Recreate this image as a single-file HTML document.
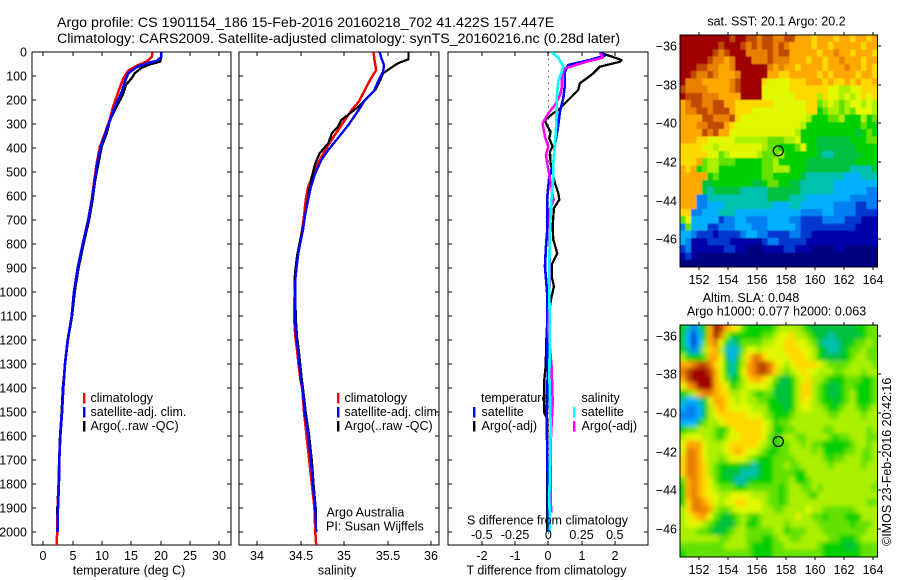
<!DOCTYPE html>
<html lang="en">
<head>
<meta charset="utf-8">
<title>Argo profile</title>
<style>
html,body{margin:0;padding:0;background:#fff;}
svg{display:block;font-family:"Liberation Sans",Arial,sans-serif;font-size:12.5px;fill:#000;}
text{fill:#000;}
</style>
</head>
<body>
<svg id="fig" xmlns="http://www.w3.org/2000/svg" width="900" height="580" viewBox="0 0 900 580">
  <defs>
    <clipPath id="clip-t"><rect x="32" y="52" width="199" height="493"/></clipPath>
    <clipPath id="clip-s"><rect x="239" y="52" width="200" height="493"/></clipPath>
    <clipPath id="clip-d"><rect x="448" y="52" width="200" height="493"/></clipPath>
    <clipPath id="clip-m1"><rect x="680" y="35" width="197.5" height="232"/></clipPath>
    <clipPath id="clip-m2"><rect x="680" y="325" width="197.5" height="232"/></clipPath>
    <filter id="soft1" filterUnits="userSpaceOnUse" x="650" y="0" width="250" height="300"><feGaussianBlur stdDeviation="0.6"/></filter>
    <filter id="soft2" filterUnits="userSpaceOnUse" x="650" y="290" width="250" height="290"><feGaussianBlur stdDeviation="2"/></filter>
  </defs>
  <rect x="0" y="0" width="900" height="580" fill="#fff"/>
  <text x="57" y="27" style="font-size:14.25px">Argo profile: CS 1901154_186 15-Feb-2016 20160218_702 41.422S 157.447E</text>
  <text x="57" y="43" style="font-size:14.2px">Climatology: CARS2009. Satellite-adjusted climatology: synTS_20160216.nc (0.28d later)</text>

  <g id="panel-t"></g>
  <g id="panel-s"></g>
  <g id="panel-d"></g>
  <g id="map-sst"></g>
  <g id="map-sla"></g>

  <text x="129" y="574.5" text-anchor="middle">temperature (deg C)</text>
  <text x="337" y="574.5" text-anchor="middle">salinity</text>
  <text x="546.5" y="574.5" text-anchor="middle">T difference from climatology</text>
  <text x="547.5" y="524.5" text-anchor="middle">S difference from climatology</text>

  <g>
    <rect x="83" y="393" width="2.4" height="10.5" fill="#f00"/>
    <rect x="83" y="407" width="2.4" height="10.5" fill="#00f"/>
    <rect x="83" y="421" width="2.4" height="10.5" fill="#000"/>
    <text x="90.5" y="402">climatology</text>
    <text x="90.5" y="416">satellite-adj. clim.</text>
    <text x="90.5" y="430">Argo(..raw -QC)</text>
  </g>
  <g>
    <rect x="337" y="393" width="2.4" height="10.5" fill="#f00"/>
    <rect x="337" y="407" width="2.4" height="10.5" fill="#00f"/>
    <rect x="337" y="421" width="2.4" height="10.5" fill="#000"/>
    <text x="344.5" y="402">climatology</text>
    <text x="344.5" y="416">satellite-adj. clim.</text>
    <text x="344.5" y="430">Argo(..raw -QC)</text>
  </g>
  <text x="326.5" y="516.5">Argo Australia</text>
  <text x="326" y="530.5">PI: Susan Wijffels</text>
  <g>
    <text x="481" y="402">temperature</text>
    <rect x="473" y="407" width="2.4" height="10.5" fill="#00f"/>
    <rect x="473" y="421" width="2.4" height="10.5" fill="#000"/>
    <text x="481.5" y="416">satellite</text>
    <text x="481.5" y="430">Argo(-adj)</text>
    <text x="581.5" y="402">salinity</text>
    <rect x="573" y="407" width="2.4" height="10.5" fill="#0ff"/>
    <rect x="573" y="421" width="2.4" height="10.5" fill="#f0f"/>
    <text x="581.5" y="416">satellite</text>
    <text x="581.5" y="430">Argo(-adj)</text>
  </g>

  <text x="776.5" y="25.5" text-anchor="middle">sat. SST: 20.1  Argo: 20.2</text>
  <text x="751" y="302" text-anchor="middle">Altim. SLA: 0.048</text>
  <text x="776.5" y="315.5" text-anchor="middle">Argo h1000: 0.077 h2000: 0.063</text>
  <text transform="translate(891,546) rotate(-90)">©IMOS 23-Feb-2016 20:42:16</text>
</svg>
<script>
// Axis ticks
const depthTicks = [0,100,200,300,400,500,600,700,800,900,1000,1100,1200,1300,1400,1500,1600,1700,1800,1900,2000];
const tempTicks = [0,5,10,15,20,25,30];
const salTicks = [34,34.5,35,35.5,36];
const tDiffTicks = [-2,-1,0,1,2];
const sDiffTicks = [-0.5,-0.25,0,0.25,0.5];
const sDiffLabels = ['-0.5','-0.25','0','0.25','0.5'];
const lonTicks = [152,154,156,158,160,162,164];
const latTicks = [-36,-38,-40,-42,-44,-46];

// Temperature profiles
const tempClimDepth = [0,18,39,56,76,108,150,185,226,282,338,393,463,532,615,700,800,900,1000,1100,1200,1300,1400,1500,1600,1700,1800,1900,2000,2054];
const tempClim = [18.6,18.5,17.6,15.9,14.5,13.65,13,12.5,11.9,11.3,10.5,9.65,9.1,8.7,8.25,7.62,6.7,5.85,5.2,4.85,4.14,3.68,3.4,3.15,2.88,2.7,2.6,2.45,2.35,2.3];
const tempSatDepth = [0,21,36,46,62,87,122,164,226,282,338,393,463,532,615,700,800,900,1000,1100,1200,1300,1400,1500,1600,1700,1800,1900,2000];
const tempSat = [20.1,20.1,19.3,17.6,15.9,14.5,13.9,13.4,12.2,11.4,10.6,9.8,9.2,8.8,8.3,7.67,6.72,5.86,5.23,4.84,4.16,3.7,3.41,3.2,2.9,2.73,2.66,2.5,2.42];
const tempArgoDepth = [0,25,39,50,64,87,108,136,178,226,282,338,393,463,532,615,700,800,900,1000,1100,1200,1300,1400,1500,1600,1700,1800,1900,2000];
const tempArgo = [20.06,20.06,19.9,18.19,16.77,15.6,15.06,14.09,13.53,12.5,11.37,10.8,9.95,9.4,8.85,8.4,7.8,6.85,6,5.35,4.9,4.2,3.72,3.33,3.12,2.85,2.7,2.6,2.4,2.4];

// Salinity profiles
const salClimDepth = [0,32,74,115,157,206,240,282,331,386,449,504,560,615,685,738,838,893,949,1032,1129,1185,1240,1310,1365,1404,1500,1600,1700,1800,1900,2000,2054];
const salClim = [35.34,35.35,35.37,35.3,35.24,35.17,35.09,35.01,34.92,34.82,34.72,34.65,34.59,34.56,34.54,34.52,34.47,34.45,34.44,34.43,34.43,34.44,34.46,34.48,34.5,34.52,34.54,34.57,34.6,34.63,34.66,34.67,34.68];
const salSatDepth = [0,25,53,81,115,164,199,240,303,358,407,449,504,560,629,685,738,838,893,949,1032,1129,1185,1240,1310,1365,1404,1500,1600,1700,1800,1900,2000];
const salSat = [35.41,35.43,35.46,35.45,35.4,35.34,35.24,35.17,35.05,34.93,34.82,34.74,34.67,34.62,34.58,34.55,34.53,34.475,34.456,34.44,34.44,34.44,34.45,34.47,34.49,34.505,34.525,34.55,34.59,34.62,34.64,34.67,34.68];
const salArgoDepth = [0,29,46,67,88,129,157,192,226,254,282,310,338,379,421,463,518,574,643,727,838,893,949,1032,1129,1185,1240,1310,1365,1404,1500,1600,1700,1800,1900,2000];
const salArgo = [35.74,35.74,35.62,35.53,35.45,35.4,35.36,35.26,35.17,35.07,34.97,34.93,34.86,34.82,34.72,34.67,34.63,34.6,34.57,34.53,34.465,34.445,34.43,34.44,34.45,34.46,34.48,34.5,34.515,34.53,34.56,34.6,34.63,34.65,34.675,34.68];

// Difference profiles
const dTArgoDepth = [0,8,32,39,60,88,104,129,157,185,213,240,254,282,303,331,359,393,414,463,518,546,587,615,650,726,782,838,886,935,976,1018,1060,1100,1157,1310,1365,1504,1530,2000];
const dTArgo = [1.55,1.7,2.2,2.16,1.55,1.35,1.2,0.95,0.9,0.7,0.5,0.3,0.15,-0.1,-0.05,0.07,0.03,0.13,0.05,0.07,0.15,0.2,0.3,0.33,0.17,0.13,0.15,0.27,0.1,0.1,0.17,0.1,0.05,0,-0.05,-0.08,-0.12,-0.12,-0.03,-0.03];
const dTSatDepth = [0,14,32,53,81,136,192,247,303,386,463,518,601,740,810,893,976,1018,1157,1350,1560,1650,1900,2000];
const dTSat = [1.55,1.7,1.25,0.6,0.5,0.5,0.45,0.35,0.3,0.2,0.15,0.03,-0.03,-0.03,-0.07,-0.1,-0.05,-0.03,-0.03,-0.02,-0.05,-0.03,-0.01,0];
const dSArgoDepth = [4,22,39,67,95,150,178,220,254,296,351,393,428,490,525,587,615,657,768,880,1018,1157,1310,1460,1630,1850,1920];
const dSArgo = [0.39,0.41,0.29,0.125,0.1,0.1,0.088,0.05,0,-0.043,-0.025,0,-0.018,0,0.0125,0.03,0.04,0.012,0.008,0.012,0.008,0,0.025,0.033,0.018,0.018,0.022];
const dSSatDepth = [0,22,60,122,192,247,317,386,463,525,601,740,880,1018,1157,1350,1560,1850,2004];
const dSSat = [0.025,0.075,0.113,0.075,0.063,0.063,0.058,0.05,0.038,0.038,0.025,0.0125,0.008,0.008,0.012,0.008,0.018,0.008,0.012];

// Map grid extents, colour levels, and level codes per row
const gridLonStart = 150.67;
const gridLonStep = 0.378;
const gridLatStart = -35.43;
const gridLatStep = 0.375;
const levelColors = ['#000080','#0000a8','#0038d0','#0080f0','#00b0ff','#00c0b0','#00c040','#00d000','#64e200','#aaf000','#e0f800','#ffd800','#ffa800','#e88000','#c04800','#a00000'];
const sstRows = [
'fffffffffeffeedeeddeecccbcccbccbccbc',
'fffffffefffededeededccccbccbcccccbcc',
'ffffffedefffddddedeecccccbccdccbcccb',
'fffffeddcdfffdddedddcccbccbccdcccbcc',
'fffeeddccdffffffdcdccbccccbcccdccbcb',
'ffeddedcccdfffffccbbcccccbcbccccbccb',
'fdddcccccdeffffbaaaabbbcccbcbbcbcbbc',
'eddddccccdeffffaaaaabbbbbbbaa99aabbb',
'feeedddccccffffaaaaaabbbb9baa9a9abab',
'cdeeddeeccbbbbbbbaaaaaabb89a989aa9a9',
'cddeedeeecbbbaaaaaaaaaabb7899898aaa9',
'cccceedddebaaaaaaaaaaaa9777889777978',
'cccddeeecbaaaaaaaaaaaa97777777777877',
'ccccedeccaaaaaaaaaaaa977777777776787',
'cccbbaaaaa99999988899a77766666677788',
'bbbbaa9aaaaaaaa9887778a7766666667777',
'bbbbbaa89aaaaa9888977777765566666777',
'bbbc89988877777889777776666666667777',
'cbc789977777777889997776666666655556',
'ccccc7877777777887777765555555444555',
'cccc66777777766788776655555544444444',
'cccc65666665555566666655555544444433',
'ccc335555555555566665554444444433333',
'ccc334445555555554445544444433332233',
'bb3344455544444444444433334433332222',
'8a4444423344333344443322223333222111',
'384442233344433344444322222222221111',
'443222122223443322223322111111111111',
'431112222111111233222221111111111111',
'231111112211000111122111000011000000',
'121000000000000000000000000000000000',
'000000000000000000000000000000000000'
];
const slaRows = [
'75357cfecba8777778999987666666667788',
'74247cfd9777777889aab998766566666788',
'74248cda756888899aabbaa9865556678898',
'75359bc95458aa9aaaabbbaa976556788988',
'97778cca6469bddbaaaabbba976666789988',
'ccdeedba7579cdeedba9abbbba9888899998',
'defffeca757acdeedb989abaa99988999899',
'ceffffca8679bccba86679ab998777888778',
'acdfffcba789aaaa976679bb987667887778',
'789cddcbb99a987886667 9bb98766789777'.replace(' ','')+'8',
'54456accba9a998877 6679ba987767897778'.replace(' ',''),
'433469bcbaaaa99977767 9aa998778998789'.replace(' ',''),
'333469abbbbbaaa987778999999889999899',
'4446899abbbbbbba97889999999999999999',
'788999878abbbbba97788999998899999989',
'9aaa99879aabbbba87899889999878899988',
'accca999abbbbba987889989887777789989',
'addca999abcbaa9877889999897777889889',
'bddca9989aaa987778888999998788999889',
'bddcb9877776656778898899999899999899',
'bddcb9876665556778888779999999999999',
'8cdcba877655677778889778999999999999',
'7cdcba988877888888789988989999999998',
'7cdcbaa99aaaa99988789998799999999999',
'7bddcba9aabbaaa988789999999999999988',
'9bdddc9889aaaaa99889999a998888889999',
'9abcca876789878999999a99887888777999',
'9aaa98766689778999989999988888878889',
'999887667899888889978889998888888899',
'999999988999888778998899999887778999',
'888888889999877778899999987777667888',
'788888888888877778888888887777777888'
];

const NS = 'http://www.w3.org/2000/svg';
const yDepth = d => 52.3 + 0.2398 * d;
const xTemp = v => 43.3 + 5.867 * v;
const xSal = v => 257 + 87 * (v - 34);
const xTD = v => 548.3 + 33.25 * v;
const xSD = v => 548.3 + 133 * v;
const xLon = l => 699.3 + 14.5 * (l - 152);
const yLatSst = l => 46 + 19.33 * (-36 - l);
const yLatSla = l => 335.7 + 19.33 * (-36 - l);

function mk(tag, parent, attrs) {
  const el = document.createElementNS(NS, tag);
  for (const k in attrs) el.setAttribute(k, attrs[k]);
  parent.appendChild(el);
  return el;
}

function tick(parent, x1, y1, x2, y2, name) {
  const t = mk('line', parent, {x1, y1, x2, y2, stroke:'#000', 'stroke-width':1, 'shape-rendering':'crispEdges'});
  
  
  return t;
}

function label(parent, x, y, str, anchor, name) {
  const t = mk('text', parent, {x, y, 'text-anchor':anchor});
  t.textContent = str;
  
  
  return t;
}

function profile(parent, depths, values, xFn, color, width, name) {
  const pts = depths.map((d, i) => xFn(values[i]).toFixed(2) + ',' + yDepth(d).toFixed(2)).join(' ');
  const p = mk('polyline', parent, {points:pts, fill:'none', stroke:color, 'stroke-width':width, 'shape-rendering':'crispEdges', 'stroke-linejoin':'round'});
  
  
  return p;
}

function panel(id, left, right, xTicks, xFn, xLabels, showDepthLabels, clip) {
  const g = document.getElementById(id);
  const top = 52, bottom = 545;
  const frame = mk('rect', g, {x:left, y:top, width:right-left, height:bottom-top, fill:'none', stroke:'#000', 'stroke-width':1, 'shape-rendering':'crispEdges'});
  
  
  depthTicks.forEach(d => {
    const y = Math.round(yDepth(d));
    if (d > 0) {
      tick(g, left, y, left + 4, y, 'depth-tick-left');
      tick(g, right - 4, y, right, y, 'depth-tick-right');
    }
    if (showDepthLabels) label(g, 27, y + 4.5, String(d), 'end', 'depth-tick-label');
  });
  xTicks.forEach((v, i) => {
    const x = Math.round(xFn(v));
    tick(g, x, top, x, top + 4, 'x-tick-top');
    tick(g, x, bottom - 4, x, bottom, 'x-tick-bottom');
    label(g, x, 560, xLabels ? xLabels[i] : String(v), 'middle', 'x-tick-label');
  });
  const series = mk('g', g, {'clip-path':'url(#' + clip + ')'});
  
  
  return series;
}

function heatmap(id, rows, yLat, blur, clip, top, bottom, latOffset) {
  const g = document.getElementById(id);
  const clipG = mk('g', g, {'clip-path':'url(#' + clip + ')'});
  
  
  const cells = mk('g', clipG, {filter:'url(#' + blur + ')', 'shape-rendering':'crispEdges'});
  
  
  rows.forEach((row, r) => {
    for (let c = 0; c < row.length; c++) {
      let x0 = xLon(gridLonStart + c * gridLonStep);
      let x1 = xLon(gridLonStart + (c + 1) * gridLonStep) + 0.6;
      let y0 = yLat(gridLatStart - r * gridLatStep);
      let y1 = yLat(gridLatStart - (r + 1) * gridLatStep) + 0.6;
      if (c === 0) x0 -= 10;
      if (c === row.length - 1) x1 += 10;
      if (r === 0) y0 -= 10;
      if (r === rows.length - 1) y1 += 10;
      const cell = mk('rect', cells, {x:x0.toFixed(2), y:y0.toFixed(2), width:(x1-x0).toFixed(2), height:(y1-y0).toFixed(2), fill:levelColors[parseInt(row[c], 16)]});
      
      
    }
  });
  const frame = mk('rect', g, {x:680, y:top, width:197.5, height:bottom-top, fill:'none', stroke:'#000', 'stroke-width':1, 'shape-rendering':'crispEdges'});
  
  
  lonTicks.forEach(l => {
    const x = Math.round(xLon(l));
    tick(g, x, top - 3, x, top, 'longitude-tick-top');
    tick(g, x, bottom, x, bottom + 3, 'longitude-tick-bottom');
    label(g, x, bottom + 17, String(l), 'middle', 'longitude-tick-label');
  });
  latTicks.forEach(l => {
    const y = Math.round(yLat(l));
    tick(g, 877.5, y, 881, y, 'latitude-tick-right');
    label(g, 677, y + 4.5, String(l).replace('-', '\u2212'), 'end', 'latitude-tick-label');
  });
  const circle = mk('circle', g, {cx:xLon(157.447).toFixed(1), cy:(yLat(-41.422) + latOffset).toFixed(1), r:5, fill:'none', stroke:'#000', 'stroke-width':1.2});
  
  
}

// Temperature panel
const tG = panel('panel-t', 32, 231, tempTicks, xTemp, null, true, 'clip-t');
profile(tG, tempArgoDepth, tempArgo, xTemp, '#000', 2.4, 'temperature-argo-line');
profile(tG, tempClimDepth, tempClim, xTemp, '#f00', 2.5, 'temperature-climatology-line');
profile(tG, tempSatDepth, tempSat, xTemp, '#00f', 2.6, 'temperature-satellite-line');

// Salinity panel
const sG = panel('panel-s', 239, 439, salTicks, xSal, null, false, 'clip-s');
profile(sG, salClimDepth, salClim, xSal, '#f00', 2.5, 'salinity-climatology-line');
profile(sG, salArgoDepth, salArgo, xSal, '#000', 2.2, 'salinity-argo-line');
profile(sG, salSatDepth, salSat, xSal, '#00f', 2.4, 'salinity-satellite-line');

// Difference panel
const dG = panel('panel-d', 448, 648, tDiffTicks, xTD, null, false, 'clip-d');
const zeroLine = mk('line', dG, {x1:xTD(0), y1:yDepth(0), x2:xTD(0), y2:545, stroke:'#000', 'stroke-width':1, 'stroke-dasharray':'1 5', 'shape-rendering':'crispEdges'});


profile(dG, dTArgoDepth, dTArgo, xTD, '#000', 2.3, 't-difference-argo-line');
profile(dG, dTSatDepth, dTSat, xTD, '#00f', 2.6, 't-difference-satellite-line');
profile(dG, dSArgoDepth, dSArgo, xSD, '#f0f', 2.5, 's-difference-argo-line');
profile(dG, dSSatDepth, dSSat, xSD, '#0ff', 2.6, 's-difference-satellite-line');
sDiffTicks.forEach((v, i) => {
  label(document.getElementById('panel-d'), xSD(v), 539, sDiffLabels[i], 'middle', 's-difference-tick-label');
});

// Maps
heatmap('map-sst', sstRows, yLatSst, 'soft1', 'clip-m1', 35, 267, 0);
heatmap('map-sla', slaRows, yLatSla, 'soft2', 'clip-m2', 325, 557, 1);
</script>
</body>
</html>
